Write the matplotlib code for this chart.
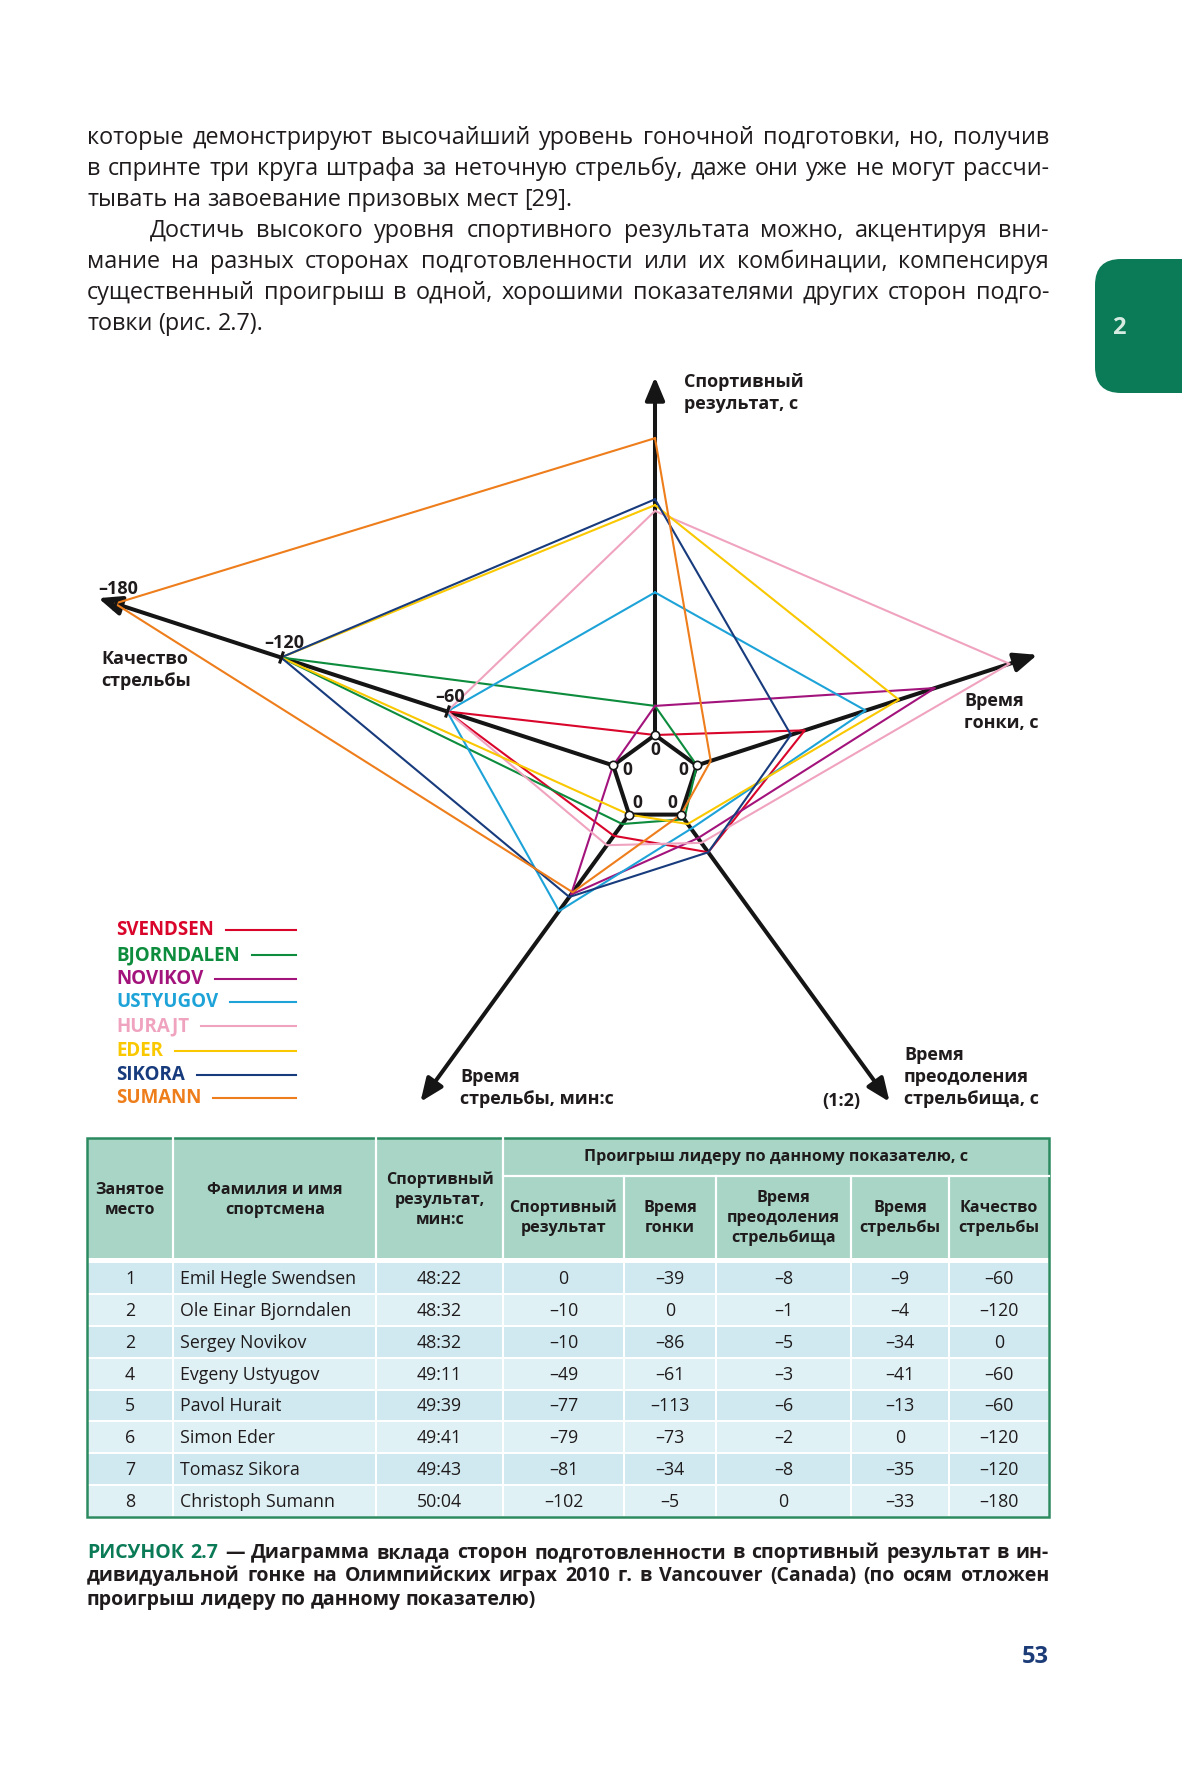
import numpy as np
import matplotlib
matplotlib.use("Agg")
import matplotlib.pyplot as plt
from matplotlib import font_manager as fm
from matplotlib.patches import Rectangle, FancyBboxPatch
from matplotlib.markers import MarkerStyle
from matplotlib.transforms import Affine2D


def has_bold(fam):
    for f in fm.fontManager.ttflist:
        if f.name != fam:
            continue
        w = f.weight
        if isinstance(w, str):
            w = fm.weight_dict.get(w, 400)
        if w >= 600:
            return True
    return False


FAM = next((f for f in ["Open Sans", "Noto Sans", "Lato", "Roboto"] if has_bold(f)),
           "DejaVu Sans")
plt.rcParams['font.family'] = [FAM, 'DejaVu Sans']

# ---------------- data ----------------
places = [1, 2, 2, 4, 5, 6, 7, 8]
full_names = ["Emil Hegle Swendsen", "Ole Einar Bjorndalen", "Sergey Novikov",
              "Evgeny Ustyugov", "Pavol Hurait", "Simon Eder", "Tomasz Sikora",
              "Christoph Sumann"]
legend_names = ["SVENDSEN", "BJORNDALEN", "NOVIKOV", "USTYUGOV", "HURAJT",
                "EDER", "SIKORA", "SUMANN"]
results = ["48:22", "48:32", "48:32", "49:11", "49:39", "49:41", "49:43", "50:04"]
loss_result = [0, -10, -10, -49, -77, -79, -81, -102]
loss_race = [-39, 0, -86, -61, -113, -73, -34, -5]
loss_range = [-8, -1, -5, -3, -6, -2, -8, 0]
loss_shoot_time = [-9, -4, -34, -41, -13, 0, -35, -33]
loss_shoot_quality = [-60, -120, 0, -60, -60, -120, -120, -180]
quality_ticks = [-60, -120, -180]
axis_scale = [1, 1, 2, 1, 1]          # range axis drawn at (1:2)
colors = ["#d9052b", "#0c8c3c", "#a3137c", "#1da3d8", "#f0a3bf",
          "#f9c800", "#173b7c", "#ee7d1b"]

TXT = "#1f1b1c"
GREEN = "#0b7a56"

W, H = 1182, 1772
fig = plt.figure(figsize=(W / 100, H / 100), dpi=100)
page = fig.add_axes([0, 0, 1, 1])
page.set_xlim(0, W)
page.set_ylim(H, 0)
page.set_axis_off()
R = fig.canvas.get_renderer()


def place_line(words, y, x0, x1, fs, weight="normal", justify=True, cols=None):
    ts = []
    for k, w in enumerate(words):
        c = cols[k] if cols else TXT
        ts.append(page.text(x0, y, w, fontsize=fs, fontweight=weight, color=c,
                            ha="left", va="baseline"))
    ws = [t.get_window_extent(R).width for t in ts]
    a = page.text(0, 0, "n n", fontsize=fs, fontweight=weight)
    b = page.text(0, 0, "nn", fontsize=fs, fontweight=weight)
    space = a.get_window_extent(R).width - b.get_window_extent(R).width
    a.remove(); b.remove()
    gap = (x1 - x0 - sum(ws)) / (len(ws) - 1) if (justify and len(ws) > 1) else space
    x = x0
    for t, w in zip(ts, ws):
        t.set_x(x)
        x += w + gap


# ---------------- body text ----------------
para = [
    ("которые демонстрируют высочайший уровень гоночной подготовки, но, получив", True, 87),
    ("в спринте три круга штрафа за неточную стрельбу, даже они уже не могут рассчи-", True, 87),
    ("тывать на завоевание призовых мест [29].", False, 87),
    ("Достичь высокого уровня спортивного результата можно, акцентируя вни-", True, 150),
    ("мание на разных сторонах подготовленности или их комбинации, компенсируя", True, 87),
    ("существенный проигрыш в одной, хорошими показателями других сторон подго-", True, 87),
    ("товки (рис. 2.7).", False, 87),
]
for k, (line, just, x0) in enumerate(para):
    place_line(line.split(" "), 144 + 31 * k, x0, 1049, 16.8, justify=just)

# green tab
page.add_patch(FancyBboxPatch((1095, 259), 140, 134,
                              boxstyle="round,pad=0,rounding_size=26",
                              fc=GREEN, ec="none", clip_on=False))
page.text(1119, 328, "2", fontsize=17, fontweight="bold", color="#d6ebe1",
          ha="center", va="center")

# ---------------- radar chart ----------------
cx, cy = 655, 779
r0_px, ppu, rmax = 44, 2.91, 200
Rpx = r0_px + rmax * ppu
axr = fig.add_axes([(cx - Rpx) / W, (H - cy - Rpx) / H, 2 * Rpx / W, 2 * Rpx / H],
                   projection="polar")
axr.set_theta_offset(np.pi / 2)
axr.set_theta_direction(-1)
axr.set_rorigin(-r0_px / ppu)
axr.set_ylim(0, rmax)
axr.set_axis_off()

theta = np.arange(5) * 2 * np.pi / 5
arrow_len = [123, 123, 122, 122, 186]

for th, L in zip(theta, arrow_len):
    axr.annotate("", xy=(th, L), xytext=(th, 0),
                 arrowprops=dict(arrowstyle="-|>,head_length=1.0,head_width=0.42",
                                 lw=2.9, color="#151515", shrinkA=0, shrinkB=0,
                                 mutation_scale=14),
                 annotation_clip=False, zorder=2)

tc = np.append(theta, theta[0])
axr.plot(tc, np.zeros(6), color="#151515", lw=2.9, zorder=2,
         solid_joinstyle="miter", clip_on=False)

for i in range(len(legend_names)):
    vals = [loss_result[i], loss_race[i], loss_range[i], loss_shoot_time[i],
            loss_shoot_quality[i]]
    rr = [-v * s for v, s in zip(vals, axis_scale)]
    rr.append(rr[0])
    axr.plot(tc, rr, color=colors[i], lw=1.5, zorder=3, clip_on=False)

axr.plot(theta, np.zeros(5), "o", ms=6, mfc="white", mec="#151515", mew=1.2,
         zorder=5, clip_on=False)

for th in theta:
    axr.annotate("0", xy=(th, 0), xytext=(-np.sin(th) * 10.5, -np.cos(th) * 10.5),
                 textcoords="offset points", ha="center", va="center",
                 fontsize=12.5, fontweight="bold", color=TXT, zorder=6)

tick_marker = MarkerStyle("|", transform=Affine2D().rotate_deg(-18))
for t in quality_ticks:
    axr.plot([theta[4]], [-t], marker=tick_marker, ms=9, mew=2.2,
             color="#151515", zorder=4, clip_on=False)
    axr.annotate("–" + str(abs(t)), xy=(theta[4], -t), xytext=(2, 4),
                 textcoords="offset points", ha="center", va="bottom",
                 fontsize=13, fontweight="bold", color=TXT, zorder=6)

# axis titles
lab_kw = dict(fontsize=13, fontweight="bold", color=TXT, ha="left", va="top",
              linespacing=1.3)
page.text(684, 373, "Спортивный\nрезультат, с", **lab_kw)
page.text(964, 692, "Время\nгонки, с", **lab_kw)
page.text(101, 650, "Качество\nстрельбы", **lab_kw)
page.text(460, 1068, "Время\nстрельбы, мин:с", **lab_kw)
page.text(904, 1046, "Время\nпреодоления\nстрельбища, с", **lab_kw)
page.text(822, 1101, "(1:2)", fontsize=13, fontweight="bold", color=TXT,
          ha="left", va="center")

# legend
leg_y = [930, 955, 979, 1002, 1026, 1051, 1075, 1098]
for name, c, y in zip(legend_names, colors, leg_y):
    t = page.text(116, y, name, fontsize=13.5, fontweight="bold", color=c,
                  ha="left", va="center")
    x_end = t.get_window_extent(R).x1
    page.plot([x_end + 12, 296], [y, y], color=c, lw=1.5)

# ---------------- table ----------------
col_edges = [87, 173, 376, 503, 624, 716, 851, 949, 1049]
t_top, t_mid, t_hbot, b_top, b_bot = 1138, 1176, 1258, 1262, 1517
HEAD = "#a8d5c5"
page.add_patch(Rectangle((87, t_top), 962, t_hbot - t_top, fc=HEAD, ec="none"))
for x in col_edges[1:4]:
    page.plot([x, x], [t_top, t_hbot], color="white", lw=1.6)
for x in col_edges[4:-1]:
    page.plot([x, x], [t_mid, t_hbot], color="white", lw=1.6)
page.plot([503, 1049], [t_mid, t_mid], color="white", lw=1.6)

hk = dict(fontsize=11.6, fontweight="bold", color=TXT, ha="center", va="center",
          linespacing=1.32)
page.text(130, 1200, "Занятое\nместо", **hk)
page.text(275, 1200, "Фамилия и имя\nспортсмена", **hk)
page.text(440, 1200, "Спортивный\nрезультат,\nмин:с", **hk)
page.text(776, 1157, "Проигрыш лидеру по данному показателю, с", **hk)
sub_heads = ["Спортивный\nрезультат", "Время\nгонки", "Время\nпреодоления\nстрельбища",
             "Время\nстрельбы", "Качество\nстрельбы"]
for k, s in enumerate(sub_heads):
    page.text((col_edges[3 + k] + col_edges[4 + k]) / 2, 1218, s, **hk)

row_h = (b_bot - b_top) / len(places)
shades = ["#d0e9f0", "#e0f1f5"]


def fmt(v):
    return "0" if v == 0 else "–" + str(abs(v))


for i in range(len(places)):
    y0 = b_top + i * row_h
    for c in range(8):
        page.add_patch(Rectangle((col_edges[c] + 1, y0 + 1),
                                 col_edges[c + 1] - col_edges[c] - 2, row_h - 2,
                                 fc=shades[i % 2], ec="none"))
    yc = y0 + row_h / 2 + 1
    row = [str(places[i]), full_names[i], results[i], fmt(loss_result[i]),
           fmt(loss_race[i]), fmt(loss_range[i]), fmt(loss_shoot_time[i]),
           fmt(loss_shoot_quality[i])]
    for c, s in enumerate(row):
        if c == 1:
            page.text(180, yc, s, fontsize=12.8, color=TXT, ha="left", va="center")
        else:
            page.text((col_edges[c] + col_edges[c + 1]) / 2, yc, s, fontsize=12.8,
                      color=TXT, ha="center", va="center")

page.add_patch(Rectangle((87, t_top), 962, b_bot - t_top, fc="none",
                         ec="#2b8a5f", lw=1.8))

# ---------------- caption ----------------
cap1 = "РИСУНОК 2.7 — Диаграмма вклада сторон подготовленности в спортивный результат в ин-".split(" ")
cap_cols = [GREEN, GREEN] + [TXT] * (len(cap1) - 2)
place_line(cap1, 1558, 87, 1049, 14, weight="bold", cols=cap_cols)
cap2 = "дивидуальной гонке на Олимпийских играх 2010 г. в Vancouver (Canada) (по осям отложен".split(" ")
place_line(cap2, 1581, 87, 1049, 14, weight="bold")
cap3 = "проигрыш лидеру по данному показателю)".split(" ")
place_line(cap3, 1605, 87, 1049, 14, weight="bold", justify=False)

page.text(1049, 1657, "53", fontsize=17, fontweight="bold", color="#1c3c78",
          ha="right", va="center")

fig.savefig("out.png", dpi=100, facecolor="white")
